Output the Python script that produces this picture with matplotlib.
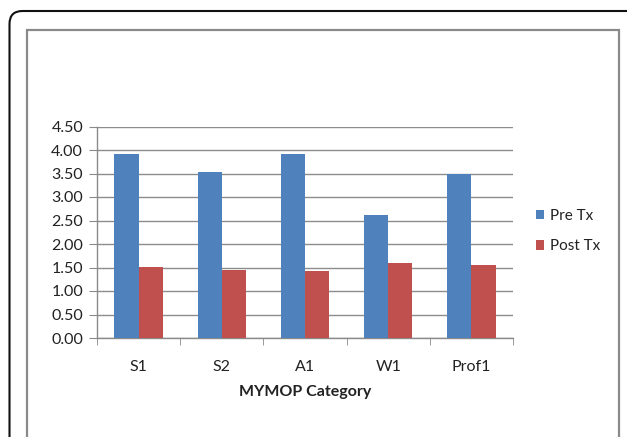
import matplotlib
matplotlib.use("Agg")
import matplotlib.pyplot as plt
import numpy as np
from matplotlib.patches import FancyBboxPatch, Rectangle

categories = ["S1", "S2", "A1", "W1", "Prof1"]
pre_tx = [3.92, 3.53, 3.92, 2.62, 3.50]
post_tx = [1.51, 1.44, 1.42, 1.59, 1.55]
yticks = [0.0, 0.5, 1.0, 1.5, 2.0, 2.5, 3.0, 3.5, 4.0, 4.5]

plt.rcParams['font.family'] = ['Lato', 'DejaVu Sans']

W, H = 627, 437
fig = plt.figure(figsize=(W / 100, H / 100), dpi=100)

# outer rounded black frame
r = 13 / W
fig.patches.append(FancyBboxPatch((9.5 / W, -0.2), (W + 20) / W, 1 - 11 / H + 0.2,
                                  boxstyle=f"round,pad=0,rounding_size={r}",
                                  mutation_aspect=W / H,
                                  transform=fig.transFigure, fill=False,
                                  edgecolor="#111111", linewidth=1.5, zorder=0))
# inner gray frame
fig.patches.append(Rectangle((26.5 / W, -0.1), (619 - 26.5) / W, 1 - 30 / H + 0.1,
                             transform=fig.transFigure, fill=False,
                             edgecolor="#8a8a8a", linewidth=1.6, zorder=0))

ax = fig.add_axes([97 / W, 1 - 338 / H, (513 - 97) / W, (338 - 126.5) / H])
x = np.arange(len(categories))
bw = 0.29
ax.bar(x - bw / 2, pre_tx, bw, color="#4F81BD", label="Pre Tx", zorder=3)
ax.bar(x + bw / 2, post_tx, bw, color="#C0504D", label="Post Tx", zorder=3)

ax.set_xlim(-0.5, len(categories) - 0.5)
ax.set_ylim(0, 4.5)
ax.set_yticks(yticks)
ax.set_yticklabels([f"{v:.2f}" for v in yticks])
ax.set_xticks(x)
ax.set_xticklabels(categories)
ax.set_xticks(np.arange(len(categories) + 1) - 0.5, minor=True)
ax.tick_params(axis="x", which="major", length=0, pad=16, labelsize=11.5, labelcolor="#222222")
ax.tick_params(axis="x", which="minor", length=5, color="#8a8a8a", direction="out")
ax.tick_params(axis="y", length=6, color="#8a8a8a", direction="out", pad=4,
               labelsize=11.5, labelcolor="#222222")
ax.yaxis.grid(True, color="#8c8c8c", linewidth=1.0, zorder=0)
ax.set_axisbelow(True)
for s in ["top", "right"]:
    ax.spines[s].set_visible(False)
for s in ["left", "bottom"]:
    ax.spines[s].set_color("#8a8a8a")
    ax.spines[s].set_linewidth(1.0)
ax.set_xlabel("MYMOP Category", fontsize=11.5, fontweight="bold", labelpad=8, color="#222222")

leg = ax.legend(loc="center left", bbox_to_anchor=(522 / W, 1 - 231 / H),
                bbox_transform=fig.transFigure, frameon=False, fontsize=11,
                handlelength=0.55, handleheight=0.55, handletextpad=0.4,
                labelspacing=1.1)
for t in leg.get_texts():
    t.set_color("#222222")

fig.savefig("out.png", dpi=100)
